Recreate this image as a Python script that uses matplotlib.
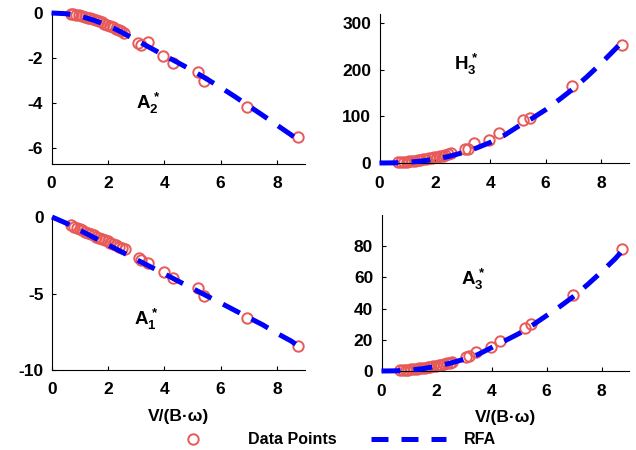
import matplotlib
matplotlib.use("Agg")
import matplotlib.pyplot as plt
from matplotlib.lines import Line2D

plt.rcParams['font.family'] = ['Liberation Sans', 'DejaVu Sans']
plt.rcParams['font.weight'] = 'bold'
plt.rcParams['mathtext.fontset'] = 'custom'
plt.rcParams['mathtext.rm'] = 'Liberation Sans:bold'
plt.rcParams['mathtext.it'] = 'Liberation Sans:bold'
plt.rcParams['mathtext.bf'] = 'Liberation Sans:bold'
plt.rcParams['axes.unicode_minus'] = False

# ---------------- data ----------------
x_pts = [0.68, 0.78, 0.88, 0.98, 1.08, 1.18, 1.28, 1.38, 1.48, 1.58,
         1.68, 1.78, 1.88, 1.98, 2.08, 2.18, 2.28, 2.38, 2.48, 2.58,
         3.08, 3.18, 3.42, 3.97, 4.32, 5.20, 5.42, 6.95, 8.75]

A2_pts = [-0.03, -0.05, -0.07, -0.10, -0.13, -0.16, -0.20, -0.24, -0.28, -0.32,
          -0.37, -0.42, -0.47, -0.52, -0.57, -0.63, -0.69, -0.75, -0.81, -0.88,
          -1.33, -1.40, -1.30, -1.92, -2.24, -2.62, -3.02, -4.15, -5.50]

H3_pts = [1.5, 2.0, 2.5, 3.0, 3.7, 4.4, 5.2, 6.0, 6.9, 7.8,
          8.8, 9.9, 11.0, 12.2, 13.4, 14.7, 16.0, 17.4, 18.9, 20.4,
          29.0, 31.0, 42.0, 49.0, 64.0, 93.0, 97.0, 165.0, 252.0]

A1_pts = [-0.55, -0.63, -0.72, -0.80, -0.88, -0.96, -1.04, -1.12, -1.20, -1.28,
          -1.36, -1.44, -1.52, -1.60, -1.68, -1.76, -1.85, -1.93, -2.02, -2.10,
          -2.70, -2.78, -3.00, -3.60, -3.98, -4.65, -5.15, -6.60, -8.45]

A3_pts = [0.40, 0.50, 0.65, 0.80, 1.00, 1.20, 1.40, 1.65, 1.90, 2.15,
          2.45, 2.75, 3.05, 3.40, 3.75, 4.10, 4.50, 4.90, 5.35, 5.80,
          9.0, 9.6, 12.5, 15.5, 19.5, 27.5, 30.0, 49.0, 78.0]

x_rfa = [0, 0.5, 1, 1.5, 2, 2.5, 3, 3.5, 4, 4.5, 5, 5.5, 6, 6.5, 7, 7.5, 8, 8.5, 8.9]
A2_rfa = [0, -0.03, -0.13, -0.32, -0.55, -0.86, -1.20, -1.54, -1.88, -2.21, -2.55,
          -2.92, -3.30, -3.70, -4.12, -4.54, -4.97, -5.40, -5.78]
H3_rfa = [0, 0.3, 1.5, 4.0, 8.0, 14.0, 22.0, 32.0, 44.0, 59.0, 78.0,
          95.0, 114.0, 136.0, 159.0, 185.0, 213.0, 243.0, 268.0]
A1_rfa = [0, -0.40, -0.88, -1.35, -1.83, -2.30, -2.78, -3.25, -3.72, -4.20, -4.67,
          -5.15, -5.62, -6.10, -6.58, -7.05, -7.60, -8.10, -8.60]
A3_rfa = [0, 0.1, 0.5, 1.5, 3.0, 5.0, 7.5, 10.5, 15.0, 19.5, 24.0,
          29.5, 35.5, 41.5, 48.0, 55.5, 63.5, 72.0, 80.0]

x_ticks = [0, 2, 4, 6, 8]

panels = [
    # (rect px [l, t, r, b], pts, rfa, ylim, yticks, label, label_xy, xlabel)
    ([51.5, 13, 305, 164], A2_pts, A2_rfa, (-6.7, 0), [-6, -4, -2, 0],
     r'$A_2^*$', (3.0, -4.0), False),
    ([379.5, 13.6, 628.6, 163], H3_pts, H3_rfa, (0, 320), [0, 100, 200, 300],
     r'$H_3^*$', (2.7, 212), False),
    ([52, 217, 305, 370], A1_pts, A1_rfa, (-10, 0), [-10, -5, 0],
     r'$A_1^*$', (2.9, -6.7), True),
    ([381.5, 215, 629, 371], A3_pts, A3_rfa, (0, 100), [0, 20, 40, 60, 80],
     r'$A_3^*$', (2.9, 59), True),
]

W, H = 636, 450
fig = plt.figure(figsize=(W / 100, H / 100), dpi=100)

mk_color = '#e85a58'
ln_color = '#0000ff'
DASH = (3.8, 2.6)

for rect, pts, rfa, ylim, yticks, lab, lab_xy, has_xlabel in panels:
    l, t, r, b = rect
    ax = fig.add_axes([l / W, 1 - b / H, (r - l) / W, (b - t) / H])
    ax.plot(x_pts, pts, linestyle='none', marker='o', markersize=7.5,
            markerfacecolor='none', markeredgecolor=mk_color,
            markeredgewidth=1.4, clip_on=False, zorder=2)
    ax.plot(x_rfa, rfa, color=ln_color, linewidth=3.6,
            dashes=DASH, dash_capstyle='butt', clip_on=False, zorder=3)
    ax.set_xlim(0, 9)
    ax.set_ylim(*ylim)
    ax.set_xticks(x_ticks)
    ax.set_yticks(yticks)
    for side in ['top', 'right']:
        ax.spines[side].set_visible(False)
    for side in ['left', 'bottom']:
        ax.spines[side].set_linewidth(0.8)
    ax.tick_params(direction='in', length=3, width=0.8, labelsize=12.5)
    ax.tick_params(axis='x', pad=9)
    ax.tick_params(axis='y', pad=6)
    for tl in ax.get_xticklabels() + ax.get_yticklabels():
        tl.set_fontweight('bold')
    ax.text(lab_xy[0], lab_xy[1], lab, fontsize=13.5, ha='left', va='center')
    if has_xlabel:
        ax.set_xlabel('V/(B·ω)', fontsize=12.5, fontweight='bold', labelpad=8)

handles = [
    Line2D([], [], linestyle='none', marker='o', markersize=7.5,
           markerfacecolor='none', markeredgecolor=mk_color, markeredgewidth=1.4),
    Line2D([], [], color=ln_color, linewidth=3.6, dashes=(3.4, 2.6),
           dash_capstyle='butt'),
]
fig.legend(handles, ['Data Points', 'RFA'], loc='center left',
           bbox_to_anchor=(155 / W, 1 - 440 / H), ncol=2, frameon=False,
           handlelength=4.7, handletextpad=1.1, columnspacing=2.2,
           borderpad=0, borderaxespad=0,
           prop={'size': 11.5, 'weight': 'bold'})

fig.savefig('out.png', dpi=100)
